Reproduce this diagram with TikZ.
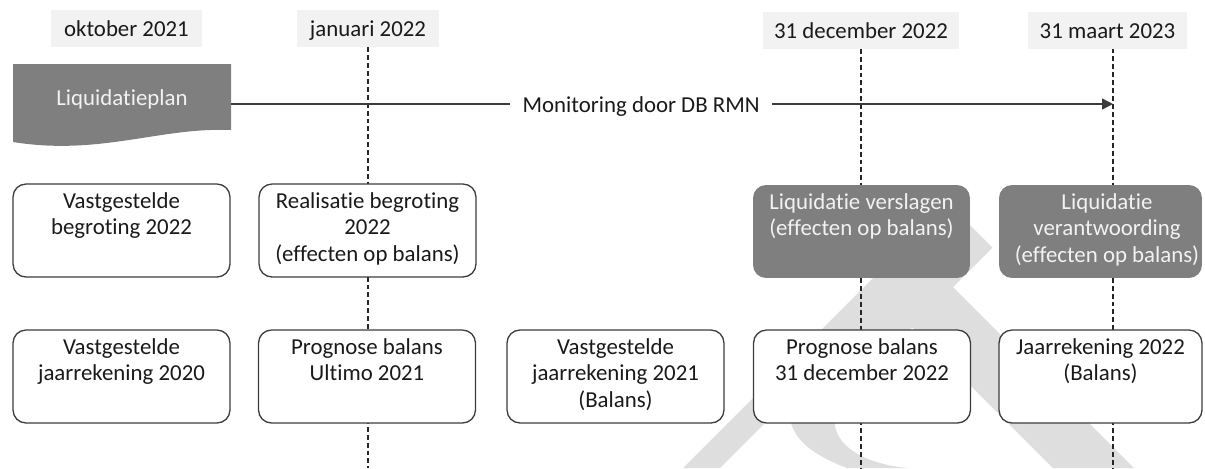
\documentclass[tikz,border=0pt]{standalone}
\usepackage{fontspec}
\setmainfont{Carlito}[Ligatures={NoCommon,NoContextual}]
\usetikzlibrary{arrows.meta}
\definecolor{lblfill}{HTML}{F2F2F2}
\definecolor{darkfill}{HTML}{7F7F7F}
\definecolor{wmark}{HTML}{DEDEDE}
\definecolor{lncol}{HTML}{3C3C3C}
\definecolor{txtcol}{HTML}{1A1A1A}
\newcommand{\lnA}{\rule[-4.5pt]{0pt}{13.6pt}}
\newcommand{\lnB}{\rule[-4.5pt]{0pt}{10.6pt}}
\tikzset{
  every node/.style={font=\fontsize{13}{15.1}\selectfont, text=txtcol},
  wbox/.style={draw=lncol, line width=0.75pt, fill=white, rounded corners=7.4pt,
    minimum width=4.34cm, minimum height=1.86cm, inner sep=0pt, align=center},
  dbox/.style={fill=darkfill, rounded corners=7.4pt,
    minimum width=4.34cm, minimum height=1.86cm, inner sep=0pt, align=center, text=lblfill},
  dtext/.style={inner sep=0pt, align=center, text=lblfill},
  datelbl/.style={fill=lblfill, minimum height=0.74cm, inner sep=0pt, text height=9.2pt, text depth=0pt},
  tline/.style={draw=black!85, line width=0.65pt, dash pattern=on 2.8pt off 1.7pt},
  mlabel/.style={fill=white, minimum width=5.24cm, minimum height=0.74cm, inner sep=0pt,
    text height=9.2pt, text depth=0pt},
  plantext/.style={inner sep=0pt, text=lblfill, text height=9.2pt, text depth=0pt}
}
\begin{document}
\begin{tikzpicture}[x=0.02cm, y=-0.02cm]
\useasboundingbox (0,0) rectangle (1205,468);
% watermark
\fill[wmark] (683,468) -- (948,203) -- (992.5,247.5) -- (953,287) -- (1134,468) -- (1053,468)
  -- (912.5,327.5) .. controls (790,410) and (830,460) .. (907,468) -- (847,468)
  .. controls (800,450) and (785,430) .. (790,398) -- (720,468) -- cycle;
% date labels
\node[datelbl, minimum width=3.02cm] (dOkt) at (126.5,28.5) {oktober 2021};
\node[datelbl, minimum width=2.84cm] (dJan) at (368,28.5) {januari 2022};
\node[datelbl, minimum width=3.92cm] (dDec) at (861,30) {31 december 2022};
\node[datelbl, minimum width=3.18cm] (dMaa) at (1107.5,30) {31 maart 2023};
\coordinate (bot) at (0,468);
\coordinate (mTop) at (1113,48.5);
% dashed time lines
\draw[tline] (dJan.south) -- (dJan.south |- bot);
\draw[tline] (dDec.south) -- (dDec.south |- bot);
\draw[tline] (mTop) -- (mTop |- bot);
% row 1
\node[wbox] (vb22) at (121.5,230.5) {\lnA Vastgestelde\\\lnB begroting 2022\\\lnB};
\node[wbox] (rb22) at (367.5,230.5) {\lnA Realisatie begroting\\\lnB 2022\\\lnB (effecten op balans)};
\node[dbox] (lv) at (861.5,231.5) {\lnA Liquidatie verslagen\\\lnB (effecten op balans)\\\lnB};
\node[dbox, minimum width=4.06cm] (lvw) at (1100.5,231.5) {};
\node[dtext] (lvwt) at (1107,231.5) {\lnA Liquidatie\\\lnB verantwoording\\\lnB (effecten op balans)};
% row 2
\node[wbox] (vj20) at (121.5,376.5) {\lnA Vastgestelde\\\lnB jaarrekening 2020\\\lnB};
\node[wbox] (pu21) at (367,376.5) {\lnA Prognose balans\\\lnB Ultimo 2021\\\lnB};
\node[wbox] (vj21) at (615.5,376.5) {\lnA Vastgestelde\\\lnB jaarrekening 2021\\\lnB (Balans)};
\node[wbox] (pd22) at (862,376.5) {\lnA Prognose balans\\\lnB 31 december 2022\\\lnB};
\node[wbox, minimum width=4.06cm] (jr22) at (1100.5,376.5) {\lnA Jaarrekening 2022\\\lnB (Balans)\\\lnB};
% Liquidatieplan document shape
\fill[darkfill] (13,64) -- (231,64) -- (231,130) .. controls (160,127) and (100,156) .. (13,142) -- cycle;
\node[plantext] (plan) at (122,97) {Liquidatieplan};
\coordinate (planR) at (231,104);
\coordinate (arrEnd) at (1113,104);
\draw[draw=lncol, line width=0.85pt, -{Triangle[length=6.2pt, width=6.2pt]}] (planR) --
  node[mlabel, pos=0.465] (mon) {Monitoring door DB RMN} (arrEnd);
\end{tikzpicture}
\end{document}
